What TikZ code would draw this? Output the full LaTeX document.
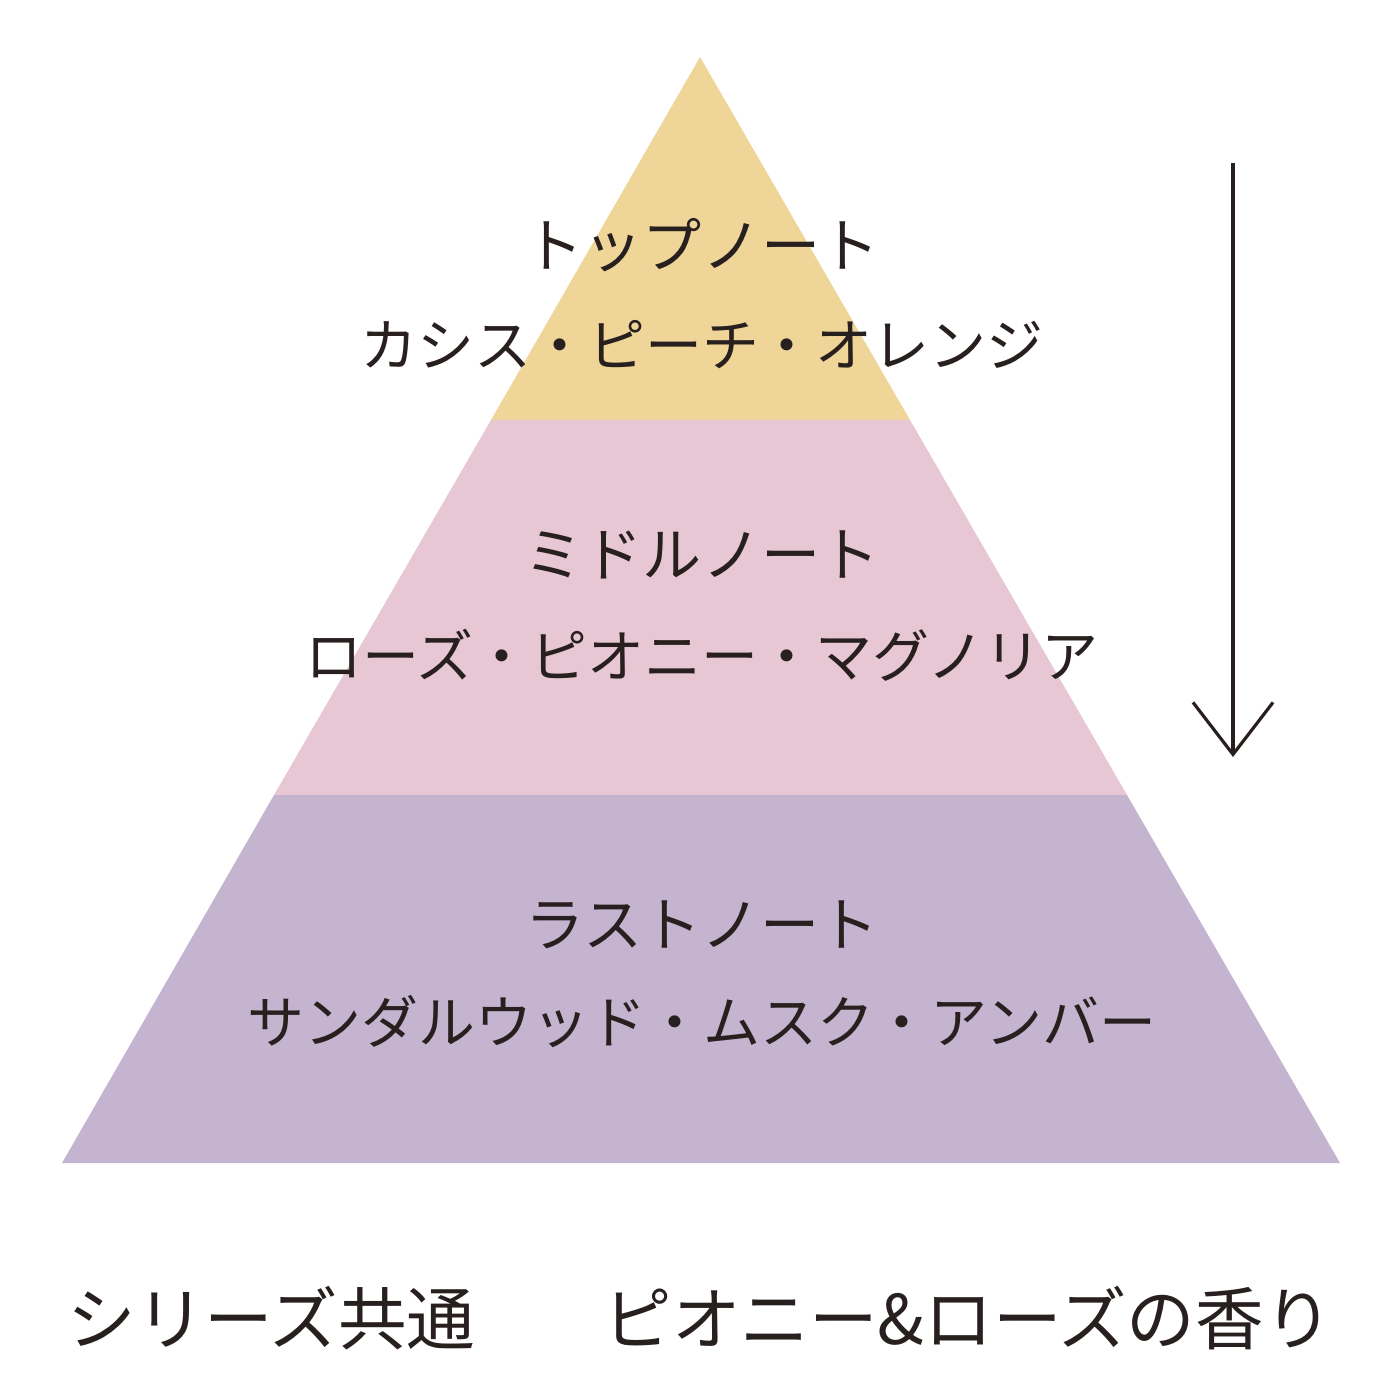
\documentclass[tikz,border=0pt]{standalone}
\usepackage{fontspec}
\setmainfont{Noto Sans CJK JP}
\usetikzlibrary{arrows.meta}
\definecolor{nttop}{RGB}{240,213,153}
\definecolor{ntmid}{RGB}{232,199,212}
\definecolor{ntlast}{RGB}{196,180,208}
\definecolor{nttext}{RGB}{40,32,30}
\tikzset{
  head/.style={text=nttext, font=\fontsize{16.8pt}{18pt}\selectfont},
  notes/.style={text=nttext, font=\fontsize{16.2pt}{18pt}\selectfont},
  foot/.style={text=nttext, font=\fontsize{19.5pt}{22pt}\selectfont},
}
\begin{document}
\begin{tikzpicture}[x=0.01cm, y=-0.01cm]
  \useasboundingbox (0,0) rectangle (1400,1400);

  % Layers
  \fill[nttop] (700,57) -- (910,420) -- (491,420) -- cycle;
  \fill[ntmid] (491,420) -- (910,420) -- (1127,795) -- (274,795) -- cycle;
  \fill[ntlast] (274,795) -- (1127,795) -- (1340,1163) -- (62,1163) -- cycle;

  % Labels
  \node[head] (top) at (702,245) {トップノート};
  \node[notes] (topn) at (702,345) {カシス・ピーチ・オレンジ};
  \node[head] (mid) at (702,555) {ミドルノート};
  \node[notes] (midn) at (702,655) {ローズ・ピオニー・マグノリア};
  \node[head] (last) at (702,925) {ラストノート};
  \node[notes] (lastn) at (702,1022) {サンダルウッド・ムスク・アンバー};

  % Arrow
  \coordinate (astart) at (1233,163);
  \coordinate (aend) at (1233,757);
  \draw[nttext, line width=0.9pt, -{Straight Barb[length=5.2mm,width=8mm,line width=0.9pt]}] (astart) -- (aend);

  % Footer
  \node[foot, anchor=west] (series) at (55,1318) {シリーズ共通};
  \node[foot, anchor=east] (scent) at (1345,1318) {ピオニー\&ローズの香り};
\end{tikzpicture}
\end{document}
